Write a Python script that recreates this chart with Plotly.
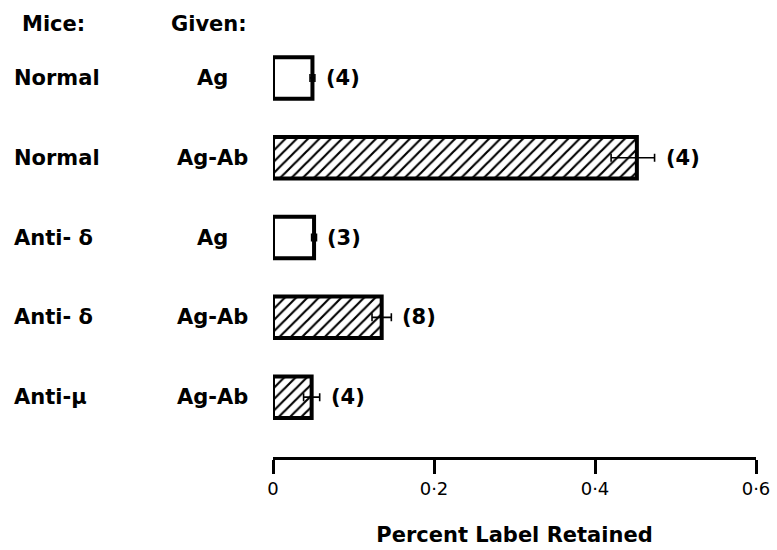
import plotly.graph_objects as go

mice = ["Normal", "Normal", "Anti- δ", "Anti- δ", "Anti-μ"]
given = ["Ag", "Ag-Ab", "Ag", "Ag-Ab", "Ag-Ab"]
values = [0.049, 0.452, 0.051, 0.135, 0.048]
err_plus = [0.003, 0.022, 0.003, 0.012, 0.010]
err_minus = [0.003, 0.032, 0.003, 0.012, 0.010]
n_counts = ["(4)", "(4)", "(3)", "(8)", "(4)"]
tick_vals = [0, 0.2, 0.4, 0.6]
tick_text = ["0", "0·2", "0·4", "0·6"]

FONT = "DejaVu Sans"
BOLD = dict(family=FONT, size=21, color="black", weight="bold")
rows = list(range(len(values)))
shapes = ["/" if g == "Ag-Ab" else "" for g in given]

L, R, T, B = 273, 21, 38, 93
PW, PH = 777 - L - R, 550 - T - B

fig = go.Figure()
fig.add_trace(go.Bar(
    x=values, y=rows, orientation="h", width=0.52,
    marker=dict(color="white", line=dict(color="black", width=4),
                pattern=dict(shape=shapes, fgcolor="black", bgcolor="white",
                             fgopacity=1, size=8, solidity=0.27)),
    error_x=dict(type="data", array=err_plus, arrayminus=err_minus,
                 symmetric=False, color="black", thickness=1.6, width=4),
    showlegend=False,
))

for i in rows:
    fig.add_annotation(x=(12 - L) / PW, xref="paper", y=i, yref="y", text=mice[i],
                       xanchor="left", yanchor="middle", showarrow=False, font=BOLD)
    fig.add_annotation(x=(212 - L) / PW, xref="paper", y=i, yref="y", text=given[i],
                       xanchor="center", yanchor="middle", showarrow=False, font=BOLD)
    fig.add_annotation(x=values[i] + err_plus[i], xref="x", y=i, yref="y",
                       text=n_counts[i], xanchor="left", yanchor="middle",
                       xshift=9, showarrow=False, font=BOLD)

fig.add_annotation(x=(20 - L) / PW, xref="paper", y=1 + (T - 24) / PH, yref="paper",
                   text="Mice:", xanchor="left", yanchor="middle", showarrow=False, font=BOLD)
fig.add_annotation(x=(169 - L) / PW, xref="paper", y=1 + (T - 24) / PH, yref="paper",
                   text="Given:", xanchor="left", yanchor="middle", showarrow=False, font=BOLD)

fig.update_layout(
    width=777, height=550,
    margin=dict(l=L, r=R, t=T, b=B, autoexpand=False),
    paper_bgcolor="white", plot_bgcolor="white",
    xaxis=dict(range=[0, 0.6], showgrid=False, zeroline=False, automargin=False,
               showline=True, linecolor="black", linewidth=2.5,
               ticks="outside", ticklen=14, tickwidth=2.5, tickcolor="black",
               tickvals=tick_vals, ticktext=tick_text,
               tickfont=dict(family=FONT, size=18, color="black"),
               title=dict(text="Percent Label Retained", standoff=29,
                          font=BOLD)),
    yaxis=dict(range=[4.75, -0.5], showgrid=False, zeroline=False, automargin=False,
               showline=False, showticklabels=False, ticks=""),
)

fig.write_html("out.html", config={"displayModeBar": False},
               post_script="document.body.style.margin='0';")
